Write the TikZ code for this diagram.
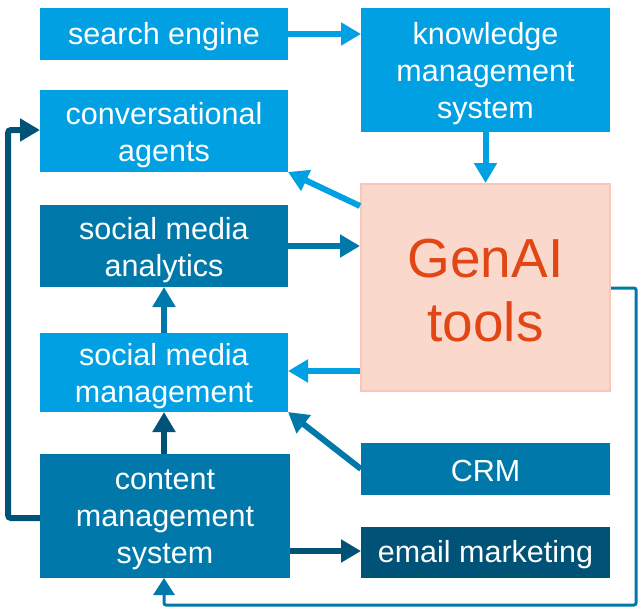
\documentclass[tikz,border=0pt]{standalone}
\usepackage{fontspec}
\setmainfont{Liberation Sans}
\usetikzlibrary{arrows.meta}
\definecolor{lightb}{RGB}{0,160,227}
\definecolor{midb}{RGB}{0,121,170}
\definecolor{darkb}{RGB}{0,82,118}
\definecolor{genfill}{RGB}{250,216,204}
\definecolor{genline}{RGB}{248,200,182}
\definecolor{gentext}{RGB}{225,70,20}
\tikzset{
  box/.style={rectangle, inner sep=0pt, outer sep=0pt},
  lbox/.style={box, fill=lightb},
  mbox/.style={box, fill=midb},
  dbox/.style={box, fill=darkb},
  txt/.style={inner sep=0pt, text=white, align=center, font=\fontsize{30.5}{37}\selectfont},
  arr/.style={line width=6pt, -{Triangle[length=20pt,width=22pt]}},
  larr/.style={arr, draw=lightb},
  marr/.style={arr, draw=midb},
  darr/.style={arr, draw=darkb},
}
\begin{document}
\begin{tikzpicture}[x=1pt,y=-1pt]
\useasboundingbox (0,0) rectangle (639,610);
\node[lbox, minimum width=248pt, minimum height=52pt] (se) at (164,34) {};
\node[lbox, minimum width=249pt, minimum height=124pt] (km) at (485.5,70) {};
\node[lbox, minimum width=248pt, minimum height=82pt] (ca) at (164,131) {};
\node[mbox, minimum width=248pt, minimum height=82pt] (sa) at (164,246) {};
\node[lbox, minimum width=248pt, minimum height=79pt] (sm) at (164,372.5) {};
\node[mbox, minimum width=250pt, minimum height=124pt] (cm) at (165,516) {};
\node[rectangle, fill=genfill, draw=genline, line width=2pt, minimum width=249pt, minimum height=207pt] (ga) at (485.5,287.5) {};
\node[mbox, minimum width=249pt, minimum height=52pt] (crm) at (485.5,469) {};
\node[dbox, minimum width=249pt, minimum height=51pt] (em) at (485.5,552.5) {};

\node[txt] (se-t) at ([yshift=-3pt]se.center) {search engine};
\node[txt] (km-t) at ([yshift=-4pt]km.center) {knowledge\\management\\system};
\node[txt] (ca-t) at ([yshift=-4pt]ca.center) {conversational\\agents};
\node[txt] (sa-t) at ([yshift=-4pt]sa.center) {social media\\analytics};
\node[txt] (sm-t) at ([yshift=-4pt]sm.center) {social media\\management};
\node[txt] (cm-t) at ([yshift=-4pt]cm.center) {content\\management\\system};
\node[txt, text=gentext, font=\fontsize{55}{64}\selectfont] (ga-t) at ([yshift=-3pt]ga.center) {GenAI\\tools};
\node[txt] (crm-t) at ([yshift=-2pt]crm.center) {CRM};
\node[txt] (em-t) at ([yshift=-2pt]em.center) {email marketing};

\draw[larr] (se.east) -- (km.west |- se.east);
\draw[larr] (km.south) -- (ga.north -| km.south);
\draw[larr] (ga.west |- 0,206) -- (ca.south east);
\draw[marr] (sa.east) -- (ga.west |- sa.east);
\draw[larr] (ga.west |- 0,371) -- (sm.east |- 0,371);
\draw[marr] (crm.west) -- (sm.south east);
\draw[marr] (sm.north) -- (sa.south);
\draw[darr] (cm.north -| sm.south) -- (sm.south);
\draw[darr] (cm.east |- 0,551) -- (em.west |- 0,551);
\coordinate (c1) at (8,518);
\coordinate (c2) at (8,130);
\draw[darr, rounded corners=3pt] (cm.west |- c1) -- (c1) -- (c2) -- (ca.west |- c2);
\coordinate (r1) at (636,288);
\coordinate (r2) at (636,605);
\coordinate (r3) at (164,605);
\draw[midb, line width=3pt, rounded corners=2pt, -{Triangle[length=17pt,width=21pt]}]
  (ga.east |- r1) -- (r1) -- (r2) -- (r3) -- (cm.south -| r3);
\end{tikzpicture}
\end{document}
